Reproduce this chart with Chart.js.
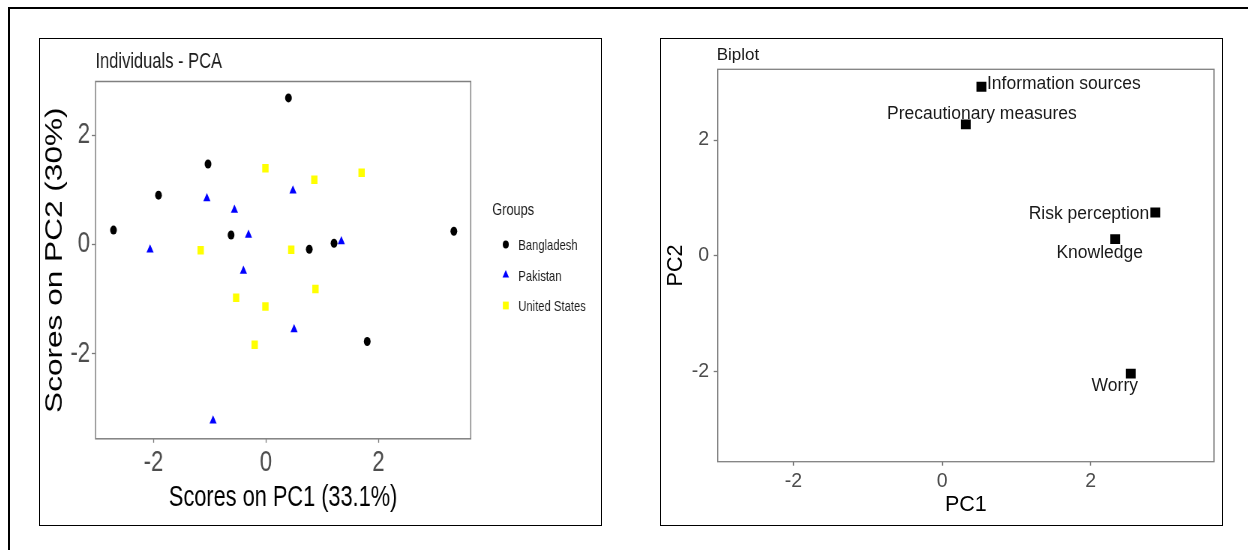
<!DOCTYPE html>
<html>
<head>
<meta charset="utf-8">
<script src="https://cdn.jsdelivr.net/npm/chart.js@4/dist/chart.umd.min.js"></script>
<style>
html,body{margin:0;padding:0;background:#fff;overflow:hidden;width:1248px;height:550px;position:relative;}
#frame{position:absolute;left:8px;top:7px;width:1260px;height:560px;border:2px solid #000;box-sizing:border-box;}
.panel{position:absolute;border:1px solid #000;box-sizing:border-box;}
#p1{left:39px;top:38px;width:563px;height:488px;}
#p2{left:660px;top:38px;width:563px;height:488px;}
#c1{position:absolute;left:40px;top:39px;transform:scaleX(0.75);transform-origin:0 0;}
#c2{position:absolute;left:661px;top:39px;}
</style>
</head>
<body>
<div id="frame"></div>
<div class="panel" id="p1"></div>
<div class="panel" id="p2"></div>
<canvas id="c1" width="749" height="485"></canvas>
<canvas id="c2" width="560" height="485"></canvas>
<script>
// ---- Data ----
const groupNames = ['Bangladesh', 'Pakistan', 'United States'];
const bangladeshPC1 = [-2.71, -1.91, -1.03, 0.40, -0.62, 0.77, 1.21, 1.80, 3.34];
const bangladeshPC2 = [0.26, 0.90, 1.47, 2.68, 0.17, -0.09, 0.02, -1.78, 0.24];
const pakistanPC1 = [-2.06, -1.05, -0.56, -0.31, 0.48, -0.40, 1.34, 0.50, -0.94];
const pakistanPC2 = [-0.10, 0.84, 0.63, 0.17, 0.98, -0.49, 0.05, -1.56, -3.23];
const usPC1 = [-0.01, 0.86, 1.70, -1.16, 0.45, -0.53, -0.01, 0.88, -0.20];
const usPC2 = [1.39, 1.18, 1.31, -0.11, -0.10, -0.98, -1.14, -0.82, -1.84];

const biplotVariables = ['Information sources', 'Precautionary measures', 'Risk perception', 'Knowledge', 'Worry'];
const biplotPC1 = [0.53, 0.32, 2.87, 2.33, 2.54];
const biplotPC2 = [2.92, 2.27, 0.75, 0.29, -2.03];

const tickValues = [-2, 0, 2];

// ---- Styling ----
const FONT = "'Liberation Sans', Arial, sans-serif";
const TICK_COLOR = '#4d4d4d';
const TICKMARK_COLOR = '#7a7a7a';
const BOX_COLOR = '#808080';

const pairs = (xs, ys) => xs.map((x, i) => ({x: x, y: ys[i]}));

const boxPlugin = {
  id: 'panelBox',
  beforeDatasetsDraw(chart, args, opts) {
    const {ctx, chartArea: a} = chart;
    ctx.save();
    ctx.strokeStyle = opts.color || BOX_COLOR;
    ctx.lineWidth = opts.width || 1.3;
    ctx.strokeRect(a.left, a.top, a.right - a.left, a.bottom - a.top);
    ctx.restore();
  }
};

function drawMarker(ctx, style, r, x, y, color) {
  ctx.save();
  ctx.fillStyle = color;
  ctx.beginPath();
  if (style === 'circle') {
    ctx.arc(x, y, r, 0, Math.PI * 2);
  } else if (style === 'triangle') {
    ctx.moveTo(x, y - r);
    ctx.lineTo(x + Math.sin(Math.PI * 2 / 3) * r, y - Math.cos(Math.PI * 2 / 3) * r);
    ctx.lineTo(x - Math.sin(Math.PI * 2 / 3) * r, y - Math.cos(Math.PI * 2 / 3) * r);
    ctx.closePath();
  } else {
    const s = r * Math.SQRT1_2;
    ctx.rect(x - s, y - s, 2 * s, 2 * s);
  }
  ctx.fill();
  ctx.restore();
}

const leftDecor = {
  id: 'leftDecor',
  afterDraw(chart) {
    const ctx = chart.ctx;
    ctx.save();
    ctx.fillStyle = '#1a1a1a';
    ctx.font = '22px ' + FONT;
    ctx.textAlign = 'left';
    ctx.textBaseline = 'alphabetic';
    ctx.fillText('Individuals - PCA', 74, 28.8);
    // legend
    ctx.font = '17px ' + FONT;
    ctx.textBaseline = 'middle';
    ctx.fillStyle = '#1a1a1a';
    ctx.fillText('Groups', 603, 171);
    const rowY = [207, 237.5, 268];
    ctx.font = '15px ' + FONT;
    chart.data.datasets.forEach((ds, i) => {
      drawMarker(ctx, ds.pointStyle, ds.pointRadius - 0.5, 621, rowY[i] - 1.5, ds.backgroundColor);
      ctx.fillStyle = '#1a1a1a';
      ctx.fillText(ds.label, 637.7, rowY[i]);
    });
    ctx.restore();
  }
};

function axis(opts) {
  return {
    type: 'linear',
    min: opts.min, max: opts.max,
    afterFit(s) { if (opts.height !== undefined) s.height = opts.height; if (opts.width !== undefined) s.width = opts.width; },
    afterBuildTicks(s) { s.ticks = tickValues.map(v => ({value: v})); },
    grid: {display: true, drawOnChartArea: false, drawTicks: true, tickLength: opts.tickLength, tickColor: TICKMARK_COLOR, tickWidth: 1.3},
    border: {display: false},
    ticks: {padding: opts.tickPad, color: TICK_COLOR, font: {family: FONT, size: opts.tickSize}, maxRotation: 0, autoSkip: false,
            callback: v => String(v)},
    title: {display: true, text: opts.title, color: '#000', font: {family: FONT, size: opts.titleSize},
            padding: opts.titlePad}
  };
}

new Chart(document.getElementById('c1'), {
  type: 'scatter',
  data: {
    datasets: [
      {label: groupNames[0], data: pairs(bangladeshPC1, bangladeshPC2), pointStyle: 'circle', pointRadius: 4.5, backgroundColor: '#000000', borderWidth: 0},
      {label: groupNames[1], data: pairs(pakistanPC1, pakistanPC2), pointStyle: 'triangle', pointRadius: 5.5, backgroundColor: '#0000ff', borderWidth: 0},
      {label: groupNames[2], data: pairs(usPC1, usPC2), pointStyle: 'rect', pointRadius: 6, backgroundColor: '#ffff00', borderWidth: 0}
    ]
  },
  options: {
    responsive: false, animation: false, devicePixelRatio: 1,
    layout: {padding: {left: 0, right: 174.7, top: 42.5, bottom: 0}},
    plugins: {legend: {display: false}, tooltip: {enabled: false}, title: {display: false},
              panelBox: {color: BOX_COLOR, width: 1.5}},
    scales: {
      x: axis({min: -3.03, max: 3.64, height: 85.2, tickLength: 4, tickPad: 2.5, tickSize: 29.5,
               title: 'Scores on PC1 (33.1%)', titleSize: 29, titlePad: {top: 0, bottom: 9}}),
      y: axis({min: -3.56, max: 2.98, width: 74, tickLength: 5, tickPad: 2.3, tickSize: 29.5,
               title: 'Scores on PC2 (30%)', titleSize: 31.6, titlePad: {top: 1, bottom: 0}})
    }
  },
  plugins: [boxPlugin, leftDecor]
});

const labelPlacement = [
  {dx: 5.5, dy: -3, align: 'left'},
  {dx: 16, dy: -10, align: 'center'},
  {dx: -6, dy: 2, align: 'right'},
  {dx: -15.5, dy: 14, align: 'center'},
  {dx: -16, dy: 12.7, align: 'center'}
];

const rightDecor = {
  id: 'rightDecor',
  afterDraw(chart) {
    const ctx = chart.ctx;
    ctx.save();
    ctx.fillStyle = '#1a1a1a';
    ctx.font = '17px ' + FONT;
    ctx.textAlign = 'left';
    ctx.textBaseline = 'alphabetic';
    ctx.fillText('Biplot', 55.7, 20.5);
    const meta = chart.getDatasetMeta(0);
    ctx.font = '17.5px ' + FONT;
    ctx.textBaseline = 'middle';
    meta.data.forEach((pt, i) => {
      const p = labelPlacement[i];
      ctx.textAlign = p.align;
      ctx.fillText(biplotVariables[i], pt.x + p.dx, pt.y + p.dy);
    });
    ctx.restore();
  }
};

new Chart(document.getElementById('c2'), {
  type: 'scatter',
  data: {
    labels: biplotVariables,
    datasets: [
      {label: 'Variables', data: pairs(biplotPC1, biplotPC2), pointStyle: 'rect', pointRadius: 7, backgroundColor: '#000000', borderWidth: 0}
    ]
  },
  options: {
    responsive: false, animation: false, devicePixelRatio: 1,
    layout: {padding: {left: 0, right: 5.7, top: 30.3, bottom: 0}},
    plugins: {legend: {display: false}, tooltip: {enabled: false}, title: {display: false},
              panelBox: {color: BOX_COLOR, width: 1.3}},
    scales: {
      x: axis({min: -3.02, max: 3.66, height: 62.3, tickLength: 4, tickPad: 4.6, tickSize: 19.5,
               title: 'PC1', titleSize: 21.5, titlePad: {top: 0, bottom: 6.2}}),
      y: axis({min: -3.55, max: 3.22, width: 56.7, tickLength: 4, tickPad: 4.5, tickSize: 19.5,
               title: 'PC2', titleSize: 21.5, titlePad: {top: 2.4, bottom: 0}})
    }
  },
  plugins: [boxPlugin, rightDecor]
});
</script>
</body>
</html>
